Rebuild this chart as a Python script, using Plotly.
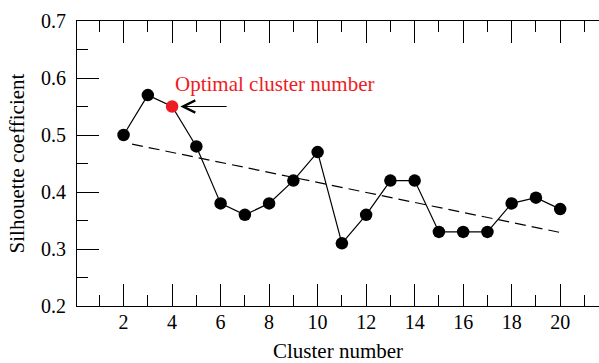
import plotly.graph_objects as go

# ---- data ----
cluster_numbers = list(range(2, 21))
silhouette = [0.50, 0.57, 0.55, 0.48, 0.38, 0.36, 0.38, 0.42, 0.47, 0.31,
              0.36, 0.42, 0.42, 0.33, 0.33, 0.33, 0.38, 0.39, 0.37]
optimal_k = 4
trend_x = [2.35, 20.0]
trend_y = [0.484, 0.329]
x_tick_vals = [2, 4, 6, 8, 10, 12, 14, 16, 18, 20]
y_tick_vals = [0.2, 0.3, 0.4, 0.5, 0.6, 0.7]
annotation_text = "Optimal cluster number"
arrow_tail_x = 6.31

RED = "#ED1C24"
FONT = "Liberation Serif"

colors = [RED if k == optimal_k else "black" for k in cluster_numbers]

fig = go.Figure()
fig.add_trace(go.Scatter(
    x=trend_x, y=trend_y, mode="lines",
    line=dict(color="black", width=1.2, dash="11px,6px"),
    hoverinfo="skip", showlegend=False))
fig.add_trace(go.Scatter(
    x=cluster_numbers, y=silhouette, mode="lines+markers",
    line=dict(color="black", width=1.2),
    marker=dict(size=12.5, color=colors, line=dict(width=0)),
    showlegend=False))

opt_y = silhouette[cluster_numbers.index(optimal_k)]
fig.add_annotation(x=optimal_k + 0.34, y=opt_y, ax=arrow_tail_x, ay=opt_y,
                   axref="x", ayref="y", xref="x", yref="y",
                   text="", showarrow=True, arrowhead=5, arrowsize=2.2,
                   arrowwidth=1.1, arrowcolor="black")
fig.add_annotation(x=optimal_k + 0.03, y=0.589, xref="x", yref="y",
                   text=annotation_text, showarrow=False,
                   xanchor="left", yanchor="middle",
                   font=dict(family=FONT, size=21, color=RED))

axis_common = dict(showgrid=False, zeroline=False, color="black",
                   linecolor="black", linewidth=1.2, tickcolor="black",
                   tickwidth=1.2, ticks="inside", ticklen=22,
                   tickfont=dict(family=FONT, size=20, color="black"))

fig.update_layout(
    width=599, height=363,
    margin=dict(l=77, r=0, t=21, b=57),
    paper_bgcolor="white", plot_bgcolor="white",
    font=dict(family=FONT, size=20, color="black"),
    xaxis=dict(range=[0.08, 21.6], tickvals=x_tick_vals, showline=True,
               mirror="ticks",
               minor=dict(dtick=1, tick0=0, ticks="inside", ticklen=11,
                          tickcolor="black", tickwidth=1.2),
               title=dict(text="Cluster number", standoff=11,
                          font=dict(family=FONT, size=21)),
               ticklabelstandoff=-2,
               **axis_common),
    yaxis=dict(range=[0.2, 0.7], tickvals=y_tick_vals, tickformat=".1f",
               showline=True,
               minor=dict(dtick=0.05, tick0=0.2, ticks="inside", ticklen=11,
                          tickcolor="black", tickwidth=1.2),
               title=dict(text="Silhouette coefficient", standoff=10,
                          font=dict(family=FONT, size=21)),
               ticklabelstandoff=6,
               **axis_common),
    yaxis2=dict(range=[0.2, 0.7], overlaying="y", side="right",
                tickvals=y_tick_vals, showticklabels=False, showline=False,
                showgrid=False, zeroline=False, ticks="inside", ticklen=16,
                tickcolor="black", tickwidth=1.2,
                minor=dict(dtick=0.05, tick0=0.2, ticks="inside", ticklen=5,
                           tickcolor="black", tickwidth=1.2)),
)

fig.write_html("out.html")
